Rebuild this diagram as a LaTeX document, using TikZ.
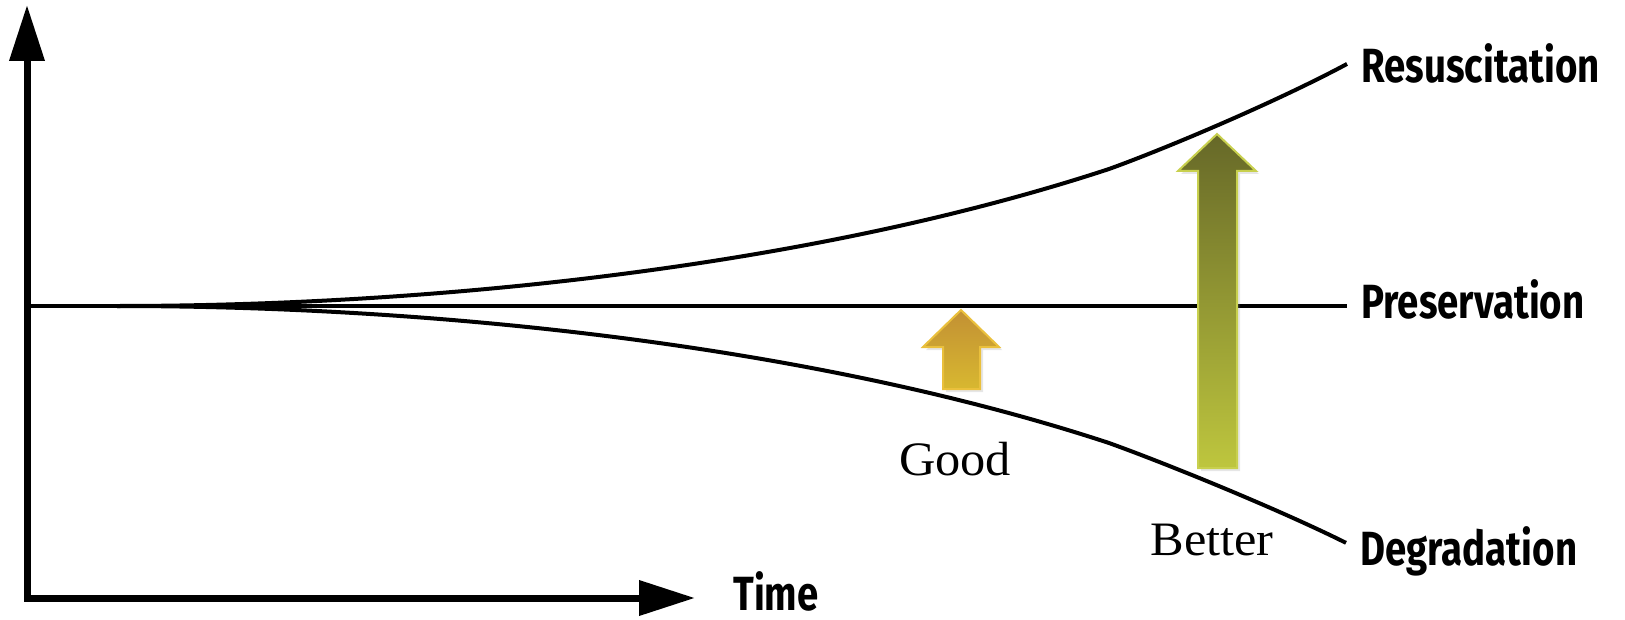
\documentclass[tikz,border=0pt]{standalone}
\usepackage{fontspec}
\setmainfont{Liberation Serif}[FakeStretch=1.05]
\newfontfamily\tagfont{Fira Sans}[FakeStretch=0.8]
\usetikzlibrary{arrows.meta,shadows}
\definecolor{goodrim}{RGB}{234,192,60}
\definecolor{goodtop}{RGB}{194,144,52}
\definecolor{goodbot}{RGB}{216,184,48}
\definecolor{betterrim}{RGB}{200,208,78}
\definecolor{bettertop}{RGB}{102,104,40}
\definecolor{betterbot}{RGB}{190,198,62}
\begin{document}
\begin{tikzpicture}[x=0.5pt,y=-0.5pt,
  axis/.style={line width=3.5pt,line join=miter,{Triangle[length=28pt,width=17pt]}-{Triangle[length=28pt,width=17pt]}},
  trend/.style={line width=2pt},
  tag/.style={font=\tagfont\bfseries\fontsize{24}{26}\selectfont,inner xsep=7pt,inner ysep=0pt,anchor=base west},
  note/.style={font=\fontsize{24}{26}\selectfont,inner sep=0pt,anchor=base},
  lift/.style={line width=1pt,line join=miter,drop shadow={opacity=0.2,shadow xshift=1.5pt,shadow yshift=-1.5pt}}]
\useasboundingbox (0,0) rectangle (1625,620);

\coordinate (ytop) at (27,5);
\coordinate (xend) at (695,598);
\coordinate (pstart) at (27,306);
\coordinate (fork) at (117,306);
\coordinate (kneeup) at (1109,169);
\coordinate (kneedown) at (1109,443);

\node[tag] (resus) at (1347,83) {Resuscitation};
\node[tag] (pres) at (1347,318) {Preservation};
\node[tag] (degr) at (1346,565) {Degradation};
\node[tag] (time) at (719,610) {Time};
\node[note] (good) at (955,475) {Good};
\node[note] (better) at (1212,555) {Better};

\draw[axis] (ytop) |- (xend);

\draw[trend] (pstart) -- (pstart -| pres.west);
\draw[trend] (fork) .. controls (448,306) and (820,264) .. (kneeup)
  .. controls (1170,147) and (1280,100) .. (resus.west);
\draw[trend] (fork) .. controls (448,306) and (820,348) .. (kneedown)
  .. controls (1170,465) and (1280,510) .. ([yshift=4pt]degr.west);

\path[lift,draw=goodrim,top color=goodtop,bottom color=goodbot]
  (961,310) -- (999,347) -- (980,347) -- (980,389) -- (943,389) -- (943,347) -- (923,347) -- cycle;
\path[lift,draw=betterrim,top color=bettertop,bottom color=betterbot]
  (1217,134) -- (1256,171) -- (1237,171) -- (1237,468) -- (1198,468) -- (1198,171) -- (1178,171) -- cycle;
\end{tikzpicture}
\end{document}
